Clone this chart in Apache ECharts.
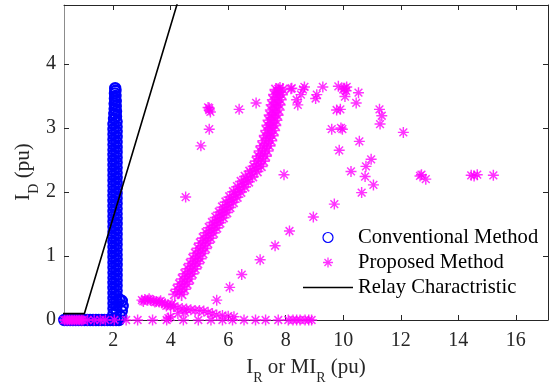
<!DOCTYPE html>
<html>
<head>
<meta charset="utf-8">
<script src="https://cdn.jsdelivr.net/npm/echarts@6/dist/echarts.min.js"></script>
<style>
  html, body { margin: 0; padding: 0; background: #fff; }
  #chart { width: 550px; height: 383px; }
</style>
</head>
<body>
<div id="chart"></div>
<script>
const xTicks = [2, 4, 6, 8, 10, 12, 14, 16];
const yTicks = [0, 1, 2, 3, 4];
const xRange = [0.29, 17.12];
const yRange = [0, 4.92];

// Conventional method: flat run along I_D = 0, then the tall column near I_R = 2
const convBase = [
  [0.30, 0], [0.40, 0], [0.50, 0], [0.60, 0], [0.70, 0], [0.80, 0], [0.90, 0], [1.00, 0],
  [1.10, 0], [1.20, 0], [1.30, 0], [1.40, 0], [1.50, 0], [1.60, 0], [1.70, 0], [1.80, 0],
  [1.90, 0], [2.00, 0], [2.10, 0], [2.20, 0], [2.28, 0.05]
];
const convColumn = [
  [2.01, 0.10], [2.12, 0.14], [2.01, 0.18], [2.12, 0.22], [2.01, 0.26], [2.12, 0.30], [2.01, 0.34], [2.12, 0.38],
  [2.01, 0.42], [2.12, 0.46], [2.01, 0.50], [2.12, 0.54], [2.01, 0.58], [2.12, 0.62], [2.01, 0.66], [2.12, 0.70],
  [2.01, 0.74], [2.12, 0.78], [2.01, 0.82], [2.12, 0.86], [2.01, 0.90], [2.12, 0.94], [2.01, 0.98], [2.12, 1.02],
  [2.01, 1.06], [2.12, 1.10], [2.01, 1.14], [2.12, 1.18], [2.01, 1.22], [2.12, 1.26], [2.01, 1.30], [2.12, 1.34],
  [2.01, 1.38], [2.12, 1.42], [2.01, 1.46], [2.12, 1.50], [2.01, 1.54], [2.12, 1.58], [2.01, 1.62], [2.12, 1.66],
  [2.01, 1.70], [2.12, 1.74], [2.01, 1.78], [2.12, 1.82], [2.01, 1.86], [2.12, 1.90], [2.01, 1.94], [2.12, 1.98],
  [2.01, 2.02], [2.12, 2.06], [2.01, 2.10], [2.12, 2.14], [2.01, 2.18], [2.12, 2.22], [2.01, 2.26], [2.12, 2.30],
  [2.01, 2.34], [2.12, 2.38], [2.01, 2.42], [2.12, 2.46], [2.01, 2.50], [2.12, 2.54], [2.01, 2.58], [2.12, 2.62],
  [2.01, 2.66], [2.12, 2.70], [2.01, 2.74], [2.12, 2.78], [2.01, 2.82], [2.12, 2.86], [2.01, 2.90], [2.12, 2.94],
  [2.01, 2.98], [2.12, 3.02], [2.01, 3.06], [2.12, 3.10], [2.03, 3.14], [2.10, 3.18], [2.04, 3.22], [2.10, 3.26],
  [2.05, 3.30], [2.09, 3.34], [2.05, 3.38], [2.09, 3.42], [2.06, 3.46], [2.08, 3.50], [2.06, 3.54], [2.08, 3.58],
  [2.07, 3.62]
];
const convBulge = [[2.30, 0.30], [2.33, 0.22], [2.30, 0.14], [2.22, 0.32]];

// Proposed method
const propOrigin = [
  [0.30, 0], [0.36, 0], [0.42, 0], [0.48, 0], [0.54, 0], [0.60, 0], [0.66, 0], [0.72, 0],
  [0.78, 0], [0.84, 0], [0.90, 0], [0.95, 0]
];
const propBaseline = [
  [1.11, 0], [1.34, 0], [1.55, 0], [1.73, 0], [2.04, 0], [2.45, 0], [2.85, 0], [3.37, 0],
  [3.86, 0], [3.92, 0.03], [4.44, 0], [4.96, 0], [5.40, 0], [5.80, 0], [6.15, 0], [6.55, 0],
  [6.95, 0], [7.30, 0], [7.74, 0], [8.09, 0], [8.25, 0], [8.38, 0], [8.50, 0], [8.67, 0],
  [8.80, 0], [8.90, 0]
];
const propTail = [
  [3.00, 0.31], [3.10, 0.32], [3.20, 0.31], [3.30, 0.31], [3.40, 0.30], [3.50, 0.29], [3.60, 0.28],
  [3.70, 0.27], [3.80, 0.25], [3.90, 0.24], [4.00, 0.22], [4.10, 0.21], [4.25, 0.19], [4.40, 0.18],
  [4.55, 0.17], [4.70, 0.16], [4.85, 0.15], [5.00, 0.15], [5.15, 0.14], [5.30, 0.12], [5.45, 0.10],
  [5.60, 0.08], [5.80, 0.07], [6.00, 0.06], [6.20, 0.05], [4.25, 0.10], [4.50, 0.12], [4.00, 0.05],
  [3.05, 0.29], [3.25, 0.33], [3.45, 0.28], [3.65, 0.30], [3.85, 0.22], [4.05, 0.25]
];
// dense diagonal band, read as left edge / right edge / middle
const propBand = [
  [4.14, 0.40], [4.38, 0.40], [4.23, 0.48], [4.47, 0.48], [4.32, 0.56], [4.56, 0.56], [4.41, 0.64], [4.65, 0.64],
  [4.50, 0.72], [4.74, 0.72], [4.60, 0.80], [4.84, 0.80], [4.69, 0.88], [4.93, 0.88], [4.78, 0.96], [5.02, 0.96],
  [4.87, 1.04], [5.11, 1.04], [4.96, 1.12], [5.20, 1.12], [5.04, 1.20], [5.28, 1.20], [5.14, 1.28], [5.38, 1.28],
  [5.24, 1.36], [5.48, 1.36], [5.35, 1.44], [5.59, 1.44], [5.46, 1.52], [5.70, 1.52], [5.58, 1.60], [5.82, 1.60],
  [5.70, 1.68], [5.94, 1.68], [5.81, 1.76], [6.05, 1.76], [5.93, 1.84], [6.17, 1.84], [6.06, 1.92], [6.30, 1.92],
  [6.19, 2.00], [6.43, 2.00], [6.33, 2.08], [6.57, 2.08], [6.46, 2.16], [6.70, 2.16], [6.60, 2.24], [6.84, 2.24],
  [6.76, 2.32], [7.00, 2.32], [6.90, 2.40], [7.14, 2.40], [6.98, 2.48], [7.22, 2.48], [7.05, 2.56], [7.29, 2.56],
  [7.11, 2.64], [7.35, 2.64], [7.18, 2.72], [7.42, 2.72], [7.24, 2.80], [7.48, 2.80], [7.29, 2.88], [7.53, 2.88],
  [7.34, 2.96], [7.58, 2.96], [7.38, 3.04], [7.62, 3.04], [7.42, 3.12], [7.66, 3.12], [7.46, 3.20], [7.70, 3.20],
  [7.50, 3.28], [7.74, 3.28], [7.53, 3.36], [7.77, 3.36], [7.57, 3.44], [7.81, 3.44], [7.61, 3.52], [7.85, 3.52],
  [7.66, 3.60], [7.90, 3.60]
];
const propBandMid = [
  [4.30, 0.44], [4.40, 0.52], [4.49, 0.60], [4.58, 0.68], [4.67, 0.76], [4.77, 0.84], [4.86, 0.92], [4.95, 1.00],
  [5.04, 1.08], [5.12, 1.16], [5.21, 1.24], [5.31, 1.32], [5.42, 1.40], [5.53, 1.48], [5.64, 1.56], [5.76, 1.64],
  [5.88, 1.72], [5.99, 1.80], [6.12, 1.88], [6.25, 1.96], [6.38, 2.04], [6.52, 2.12], [6.65, 2.20], [6.80, 2.28],
  [6.95, 2.36], [7.06, 2.44], [7.14, 2.52], [7.20, 2.60], [7.27, 2.68], [7.33, 2.76], [7.39, 2.84], [7.44, 2.92],
  [7.48, 3.00], [7.52, 3.08], [7.56, 3.16], [7.60, 3.24], [7.64, 3.32], [7.67, 3.40], [7.71, 3.48], [7.76, 3.56]
];
const propScatter = [
  [5.34, 3.28], [5.30, 3.32], [5.38, 3.25], [5.34, 3.31], [6.38, 3.29], [6.97, 3.39], [5.34, 2.98], [5.05, 2.72],
  [7.94, 2.27], [7.74, 3.61], [7.70, 3.58], [7.80, 3.63], [8.18, 3.61], [8.38, 3.44], [8.21, 3.62], [8.65, 3.64],
  [8.60, 3.60], [8.53, 3.52], [8.42, 3.36], [9.04, 3.46], [9.08, 3.52], [9.29, 3.64], [9.83, 3.65], [10.05, 3.62],
  [10.12, 3.64], [10.00, 3.60], [10.10, 3.58], [10.06, 3.49], [10.53, 3.55], [10.45, 3.39], [9.77, 3.28], [9.90, 3.29],
  [11.26, 3.29], [11.34, 3.19], [11.28, 3.06], [9.60, 2.98], [9.97, 2.98], [9.92, 3.00], [12.09, 2.93], [10.56, 2.79],
  [9.86, 2.65], [10.97, 2.51], [10.79, 2.40], [10.27, 2.32], [10.76, 2.24], [11.05, 2.11], [10.64, 1.99], [9.69, 1.81],
  [8.96, 1.61], [8.13, 1.39], [7.63, 1.16], [7.11, 0.94], [6.47, 0.71], [6.05, 0.51], [5.60, 0.31], [4.52, 1.92],
  [12.67, 2.25], [12.72, 2.27], [12.87, 2.20], [14.45, 2.26], [14.55, 2.25], [14.66, 2.27], [15.22, 2.26]
];

// Relay characteristic: flat pickup then slope
const relayLine = [[0, 0.1], [1, 0.1], [4.3, 5.05]];

const serif = '"Liberation Serif", "Times New Roman", serif';
const asterisk = 'path://M-1.3,-10L1.3,-10L1.3,10L-1.3,10Z M-10,-1.3L10,-1.3L10,1.3L-10,1.3Z ' +
  'M-6.1,-8.0L8.0,6.1L6.1,8.0L-8.0,-6.1Z M8.0,-6.1L-6.1,8.0L-8.0,6.1L6.1,-8.0Z';
const magenta = '#ff00ff';

const chart = echarts.init(document.getElementById('chart'), null, { renderer: 'canvas' });

const tickStyle = { color: '#262626', width: 1 };

function xAxisCfg(pos, showLabel) {
  return {
    type: 'value', position: pos, min: xRange[0], max: xRange[1],
    axisLine: { show: true, onZero: false, lineStyle: { color: '#262626', width: 1 } },
    axisTick: { show: true, inside: true, length: 5, customValues: xTicks, lineStyle: tickStyle },
    axisLabel: {
      show: showLabel, customValues: xTicks, margin: 11,
      fontFamily: serif, fontSize: 20, color: '#262626'
    },
    splitLine: { show: false }
  };
}
function yAxisCfg(pos, showLabel, lineColor) {
  return {
    type: 'value', position: pos, min: yRange[0], max: yRange[1],
    axisLine: { show: true, onZero: false, lineStyle: { color: lineColor, width: 1 } },
    axisTick: { show: true, inside: true, length: 5, customValues: yTicks, lineStyle: tickStyle },
    axisLabel: {
      show: showLabel, customValues: yTicks, margin: 8,
      fontFamily: serif, fontSize: 20, color: '#262626'
    },
    splitLine: { show: false }
  };
}

// subscript: main tokens hang from the top of a 28px line, sub tokens sit on its bottom
const nameRich = {
  n: { fontFamily: serif, fontSize: 21, lineHeight: 22, verticalAlign: 'top', fill: '#262626', color: '#262626' },
  sub: { fontFamily: serif, fontSize: 14, lineHeight: 28, verticalAlign: 'bottom', fill: '#262626', color: '#262626' }
};

const option = {
  animation: false,
  backgroundColor: '#fff',
  grid: { left: 64, right: 2, top: 5, bottom: 63, containLabel: false },
  xAxis: [xAxisCfg('bottom', true), xAxisCfg('top', false)],
  yAxis: [yAxisCfg('left', true, '#8c8c8c'), yAxisCfg('right', false, '#262626')],
  legend: {
    orient: 'vertical',
    left: 298,
    top: 222,
    padding: 5,
    itemWidth: 50,
    itemHeight: 10,
    itemGap: 4,
    textStyle: { fontFamily: serif, fontSize: 20.6, color: '#000', lineHeight: 21 },
    data: [
      { name: 'Conventional Method', itemStyle: { borderWidth: 1.2 } },
      'Proposed Method',
      { name: 'Relay Charactristic', icon: 'path://M0,0L50,0L50,1.6L0,1.6Z' }
    ]
  },
  graphic: [
    {
      type: 'text', x: 306, y: 371, silent: true,
      style: {
        text: '{n|I}{sub|R}{n| or MI}{sub|R}{n| (pu)}',
        rich: nameRich, align: 'center', verticalAlign: 'middle'
      }
    },
    {
      type: 'text', x: 27, y: 172, rotation: Math.PI / 2, silent: true,
      style: {
        text: '{n|I}{sub|D}{n| (pu)}',
        rich: nameRich, align: 'center', verticalAlign: 'middle'
      }
    }
  ],
  series: [
    {
      name: 'Conventional Method',
      type: 'scatter',
      symbol: 'circle',
      symbolSize: 10,
      itemStyle: { color: 'rgba(0,0,255,0)', borderColor: '#0000ff', borderWidth: 2.4, opacity: 1 },
      data: convBase.concat(convColumn, convBulge)
    },
    {
      name: 'Proposed Method',
      type: 'scatter',
      symbol: asterisk,
      symbolSize: 11,
      itemStyle: { color: magenta },
      data: propOrigin.concat(propBaseline, propTail, propScatter)
    },
    {
      // same legend entry; the overlapping band reads thicker in the original
      name: 'Proposed Method',
      type: 'scatter',
      symbol: asterisk,
      symbolSize: 13,
      itemStyle: { color: magenta },
      data: propBand.concat(propBandMid)
    },
    {
      name: 'Relay Charactristic',
      type: 'line',
      showSymbol: false,
      symbol: 'none',
      itemStyle: { color: '#000' },
      lineStyle: { color: '#000', width: 1.6 },
      data: relayLine
    }
  ]
};

chart.setOption(option);
</script>
</body>
</html>
